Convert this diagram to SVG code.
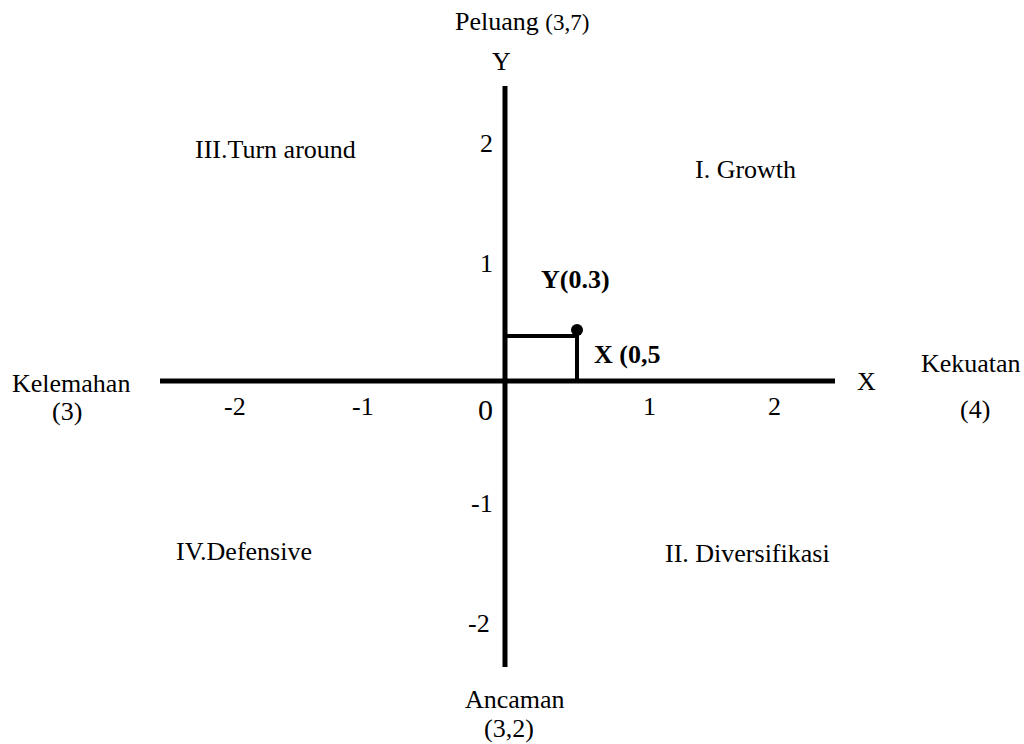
<svg xmlns="http://www.w3.org/2000/svg" width="1024" height="744" viewBox="0 0 1024 744" font-family="'Liberation Serif', 'Times New Roman', Tinos, 'DejaVu Serif', serif">
<style>
text{font-family:'Liberation Serif','Times New Roman',Tinos,'DejaVu Serif',serif;font-size:26px;fill:#000}
.b{font-weight:bold}
.z{font-size:30px}
.ax{stroke:#000;stroke-width:5;fill:none}
.pt{stroke:#000;stroke-width:4;fill:none}
</style>
<rect width="1024" height="744" fill="#fff"/>
<g id="connectors">
<line class="ax" x1="505" y1="86" x2="505" y2="667"/>
<line class="ax" x1="160" y1="381" x2="835" y2="381"/>
<polyline class="pt" points="505,336 577,336 577,381"/>
<circle cx="577" cy="330" r="6" fill="#000"/>
</g>
<g id="axis-labels">
<text x="455" y="30">Peluang <tspan font-size="23">(3,7)</tspan></text>
<text x="492" y="70">Y</text>
<text x="12" y="392">Kelemahan</text>
<text x="52" y="420">(3)</text>
<text x="857" y="390">X</text>
<text x="921" y="372">Kekuatan</text>
<text x="960" y="418">(4)</text>
<text x="465" y="708">Ancaman</text>
<text x="484" y="737">(3,2)</text>
</g>
<g id="ticks">
<text x="480" y="152">2</text>
<text x="480" y="272">1</text>
<text x="471" y="512">-1</text>
<text x="468" y="632">-2</text>
<text x="224" y="415">-2</text>
<text x="352" y="415">-1</text>
<text class="z" x="478" y="420">0</text>
<text x="643" y="415">1</text>
<text x="768" y="415">2</text>
</g>
<g id="quadrant-III"><text x="195" y="158">III.Turn around</text></g>
<g id="quadrant-I"><text x="695" y="178">I. Growth</text></g>
<g id="quadrant-IV"><text x="176" y="560">IV.Defensive</text></g>
<g id="quadrant-II"><text x="665" y="562">II. Diversifikasi</text></g>
<g id="point">
<text class="b" x="541" y="288">Y(0.3)</text>
<text class="b" x="594" y="363">X (0,5</text>
</g>
</svg>
